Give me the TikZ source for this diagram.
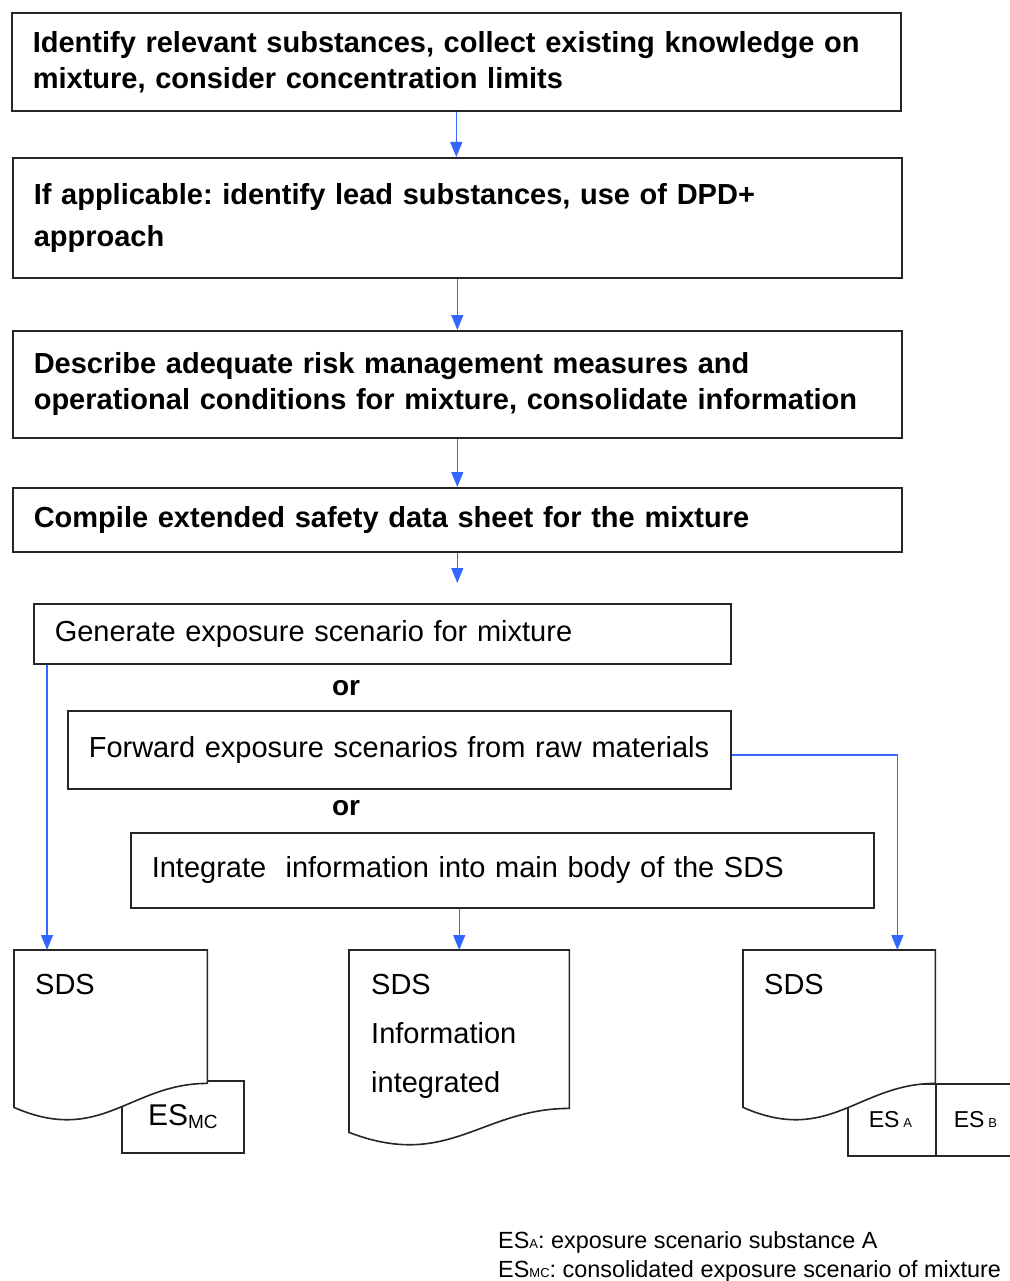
\documentclass[tikz,border=0pt]{standalone}
\usepackage{fontspec}
\setmainfont{Liberation Sans}
\usetikzlibrary{positioning,calc,arrows.meta,backgrounds}

\definecolor{flowblue}{RGB}{51,102,255}
\newcommand{\stepfont}{\fontsize{29}{36}\selectfont\bfseries}
\newcommand{\optfont}{\fontsize{29}{36}\selectfont}
\newcommand{\lsub}[1]{{\fontsize{13}{13}\selectfont #1}}
% outline of a sheet with a wavy lower edge
\newcommand{\docoutline}[1]{%
  \filldraw[docline] (#1.north west) -- (#1.north east) -- ([yshift=24pt]#1.south east)
    .. controls ($(#1.south west)!0.6!(#1.south east)+(0,-24)$) and ($(#1.south west)!0.45!(#1.south east)+(0,38)$) .. (#1.south west) -- cycle;}

\begin{document}
\frenchspacing
\begin{tikzpicture}[x=1pt,y=-1pt,
    stepbox/.style={draw=black!85,line width=1.6pt,anchor=north west,inner xsep=21pt,align=left,font=\stepfont},
    optbox/.style={stepbox,font=\optfont},
    orlabel/.style={font=\fontsize{28}{28}\selectfont\bfseries},
    flow/.style={draw=flowblue,line width=1.4pt,-{Triangle[width=12pt,length=15pt]}},
    docline/.style={fill=white,draw=black!85,line width=1.6pt},
    docbody/.style={anchor=north west,inner sep=0pt},
    doctext/.style={anchor=north west,inner sep=0pt,align=left,font=\optfont},
    esbox/.style={draw=black!85,line width=1.6pt,anchor=north west},
    legendtext/.style={anchor=base west,inner sep=0pt,font=\fontsize{23.4}{24}\selectfont}]
  \useasboundingbox (0,0) rectangle (1009,1281);

  % main steps
  \node[stepbox,text width=847pt,minimum height=98pt] (identify) at (11,12)
    {Identify relevant substances, collect existing knowledge on\\mixture, consider concentration limits};
  \node[stepbox,text width=847pt,minimum height=120pt] (lead) at (12,157)
    {If applicable: identify lead substances, use of DPD+\\[6pt]approach};
  \node[stepbox,text width=847pt,minimum height=107pt] (measures) at (12,330)
    {Describe adequate risk management measures and\\operational conditions for mixture, consolidate information};
  \node[stepbox,text width=847pt,minimum height=64pt] (compile) at (12,487)
    {Compile extended safety data sheet for the mixture};
  \coordinate (pick) at (457,583);

  % options
  \node[optbox,text width=655pt,minimum height=60pt] (generate) at (33,603)
    {Generate exposure scenario for mixture};
  \node[orlabel] (or1) at (346,688) {or};
  \node[optbox,text width=621pt,minimum height=78pt] (forward) at (67,710)
    {Forward exposure scenarios from raw materials};
  \node[orlabel] (or2) at (346,808) {or};
  \node[optbox,text width=701pt,minimum height=75pt] (integrate) at (130,832)
    {Integrate~ information into main body of the SDS};

  % sheets
  \node[docbody,minimum width=193pt,minimum height=157pt] (sdsmc) at (14,950) {};
  \node[docbody,minimum width=220pt,minimum height=182pt] (sdsinfo) at (349,950) {};
  \node[docbody,minimum width=192pt,minimum height=157pt] (sdsab) at (743,950) {};
  \begin{pgfonlayer}{background}
    \node[esbox,minimum width=122pt,minimum height=72pt,font=\fontsize{30}{30}\selectfont] (esmc) at (121,1080)
      {ES{\fontsize{19}{19}\selectfont\raisebox{-3pt}{MC}}};
    \node[esbox,inner xsep=21pt,text width=46pt,align=left,minimum height=72pt,font=\fontsize{23}{23}\selectfont] (esa) at (847,1083)
      {ES\,\lsub{A}};
    \node[esbox,inner xsep=18pt,text width=72pt,align=left,minimum height=72pt,font=\fontsize{23}{23}\selectfont] (esb) at (935,1083)
      {ES\,\lsub{B}};
    \docoutline{sdsmc}
    \docoutline{sdsinfo}
    \docoutline{sdsab}
  \end{pgfonlayer}
  \node[doctext] (sdsmclabel) at (35,974) {SDS};
  \node[doctext,font=\fontsize{29}{49}\selectfont] (sdsinfolabel) at (371,974) {SDS\\Information\\integrated};
  \node[doctext] (sdsablabel) at (764,974) {SDS};

  % legend
  \node[legendtext] (legenda) at (498,1248) {ES\lsub{A}: exposure scenario substance A};
  \node[legendtext] (legendmc) at (498,1277) {ES\lsub{MC}: consolidated exposure scenario of mixture};

  % flow
  \draw[flow] (identify.south) -- (identify.south |- lead.north);
  \draw[flow] (lead.south) -- (lead.south |- measures.north);
  \draw[flow] (measures.south) -- (measures.south |- compile.north);
  \draw[flow] (compile.south) -- (compile.south |- pick);
  \draw[flow] ([xshift=14pt]generate.south west) -- ([xshift=14pt]generate.south west |- sdsmc.north);
  \draw[flow] ([yshift=-5pt]forward.east) -| ([xshift=-38pt]sdsab.north east);
  \draw[flow] (integrate.south -| sdsinfo.north) -- (sdsinfo.north);
\end{tikzpicture}
\end{document}
